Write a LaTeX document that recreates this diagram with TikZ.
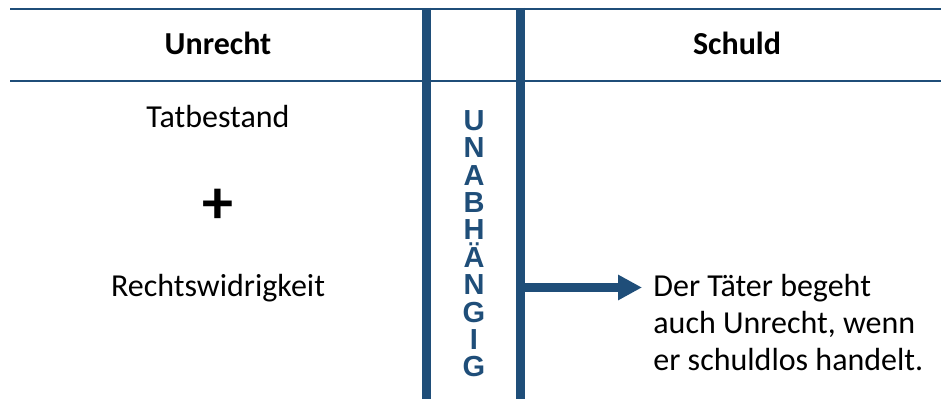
\documentclass[tikz,border=0pt]{standalone}
\usepackage{fontspec}
\setmainfont{Carlito}
\newfontfamily\arialfont{Liberation Sans}
\usetikzlibrary{arrows.meta, positioning}
\definecolor{rechtsblau}{RGB}{31,78,121}

\begin{document}
\begin{tikzpicture}[x=0.5pt, y=-0.5pt,
		linie/.style={rechtsblau, line width=1pt},
		balken/.style={rechtsblau, line width=4.5pt},
		pfeil/.style={-{Triangle[length=12pt, width=12pt]}, rechtsblau, line width=4.5pt},
		kopf/.style={anchor=base, font=\fontsize{16}{19}\selectfont\bfseries},
		eintrag/.style={anchor=base, font=\fontsize{16}{19}\selectfont}]
		\useasboundingbox (0,0) rectangle (941,399);
		\draw [linie] (10,9) -- (941,9);
		\draw [linie] (10,81) -- (941,81);
		\draw [balken] (426.5,8) coordinate (balkenL) -- (426.5,399);
		\draw [balken] (520.5,8) coordinate (balkenR) -- (520.5,399);
		\node[kopf] (unrecht) at (218,55) {Unrecht};
		\node[kopf] (schuld) at (737,55) {Schuld};
		\node[eintrag] (tatbestand) at (218,128) {Tatbestand};
		\node[anchor=base, font=\fontsize{31}{33}\selectfont\bfseries] (plus) at (218,224) {+};
		\node[eintrag] (rechtswidrig) at (218,297) {Rechtswidrigkeit};
		\node[anchor=north, align=center, rechtsblau, inner sep=0pt,
			font=\fontsize{14.5}{13.7}\selectfont\arialfont\bfseries] (unabh) at (474,110)
			{U\\N\\A\\B\\H\\Ä\\N\\G\\I\\G};
		\node[anchor=north west, align=left, inner sep=0pt,
			font=\fontsize{16}{18.35}\selectfont] (taeter) at (653,274)
			{Der Täter begeht\\auch Unrecht, wenn\\er schuldlos handelt.};
		\coordinate (spitze) at (642,287.5);
		\draw [pfeil] (balkenR |- spitze) -- (spitze);
		\end{tikzpicture}
\end{document}
